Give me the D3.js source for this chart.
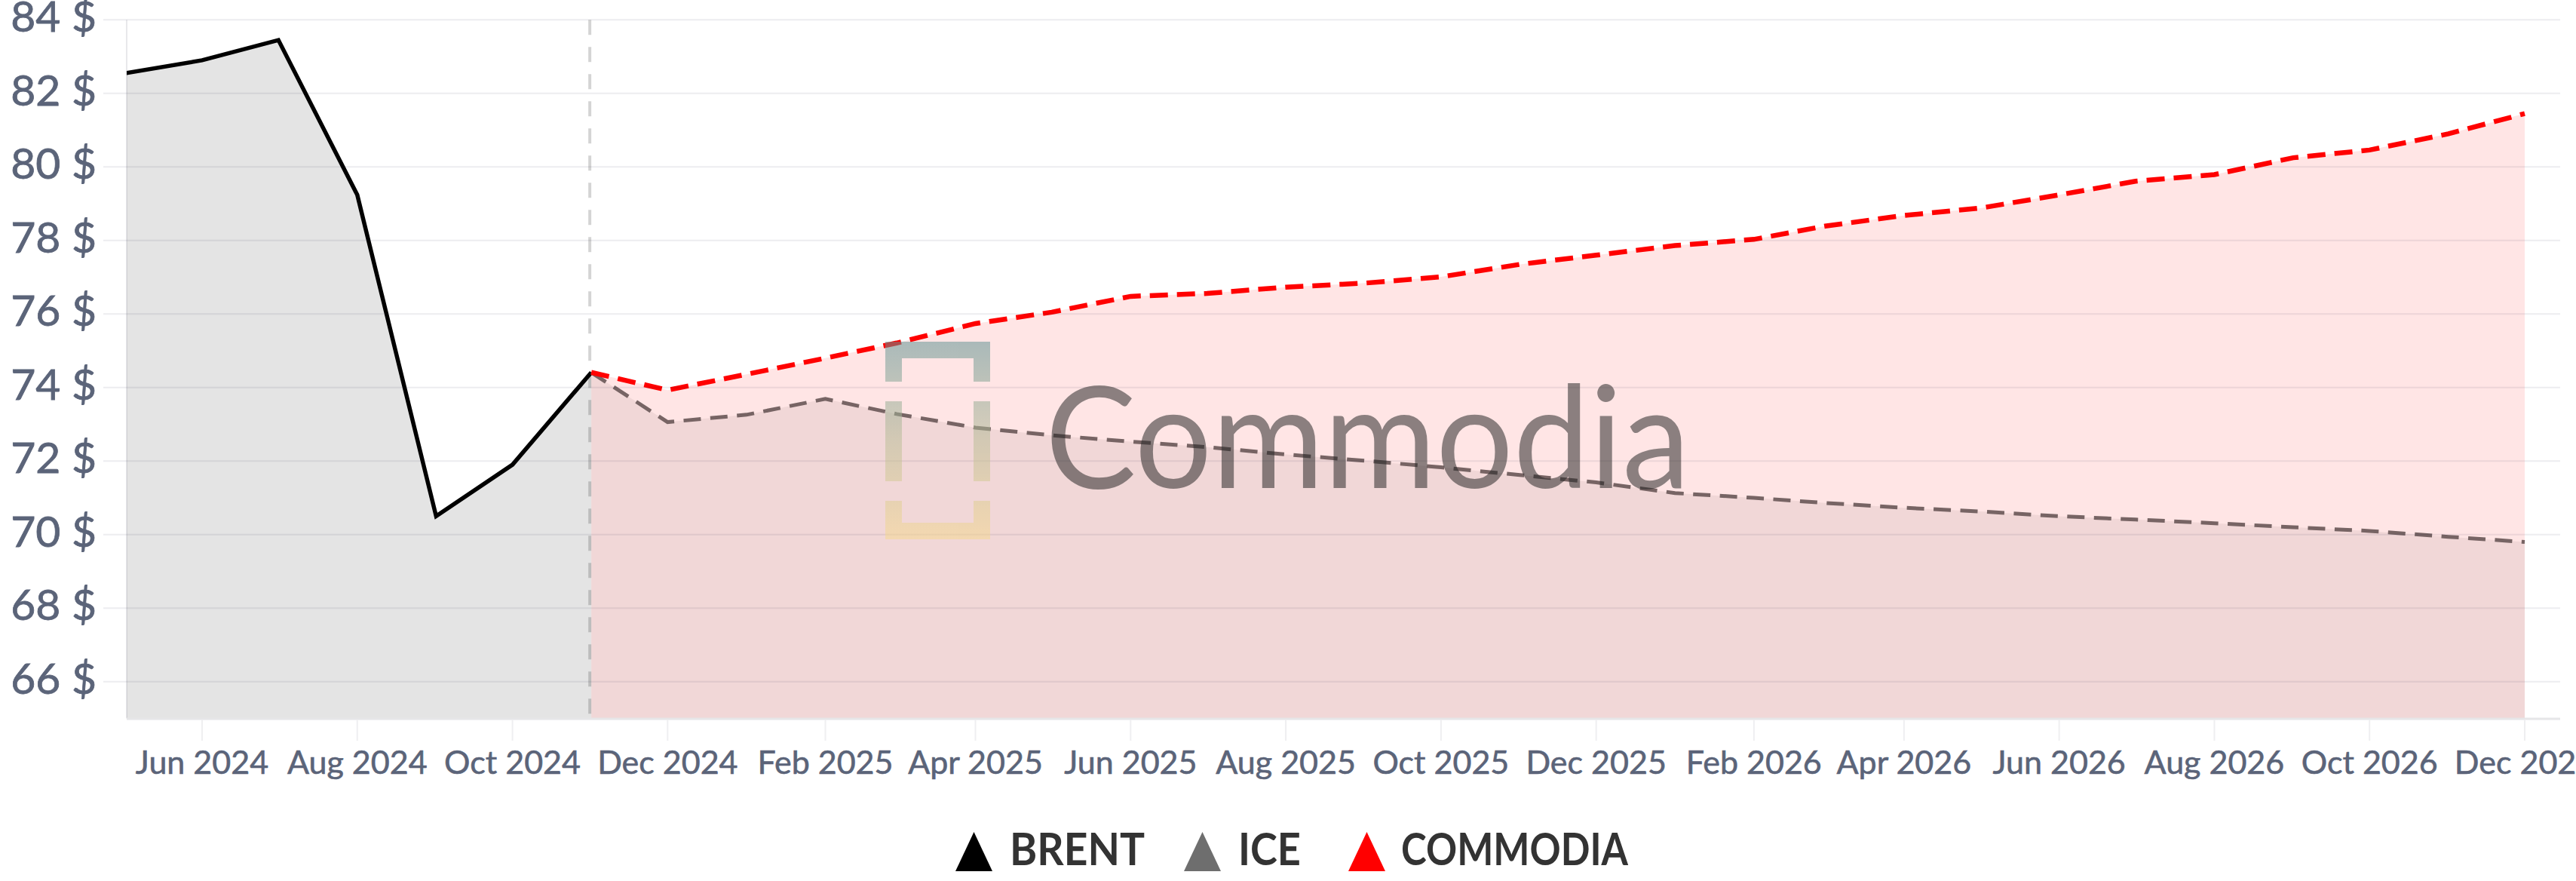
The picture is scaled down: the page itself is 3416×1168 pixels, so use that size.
<!DOCTYPE html>
<html>
<head>
<meta charset="utf-8">
<script src="https://cdn.jsdelivr.net/npm/d3@7"></script>
<style>
html,body{margin:0;padding:0;background:#ffffff;}
svg{display:block;}
</style>
</head>
<body>
<svg id="chart" width="3416" height="1168"></svg>
<script>
// ---------------- DATA ----------------
const brentMonths = ["2024-05","2024-06","2024-07","2024-08","2024-09","2024-10","2024-11"];
const brentValues = [82.54, 82.90, 83.45, 79.24, 70.50, 71.90, 74.41];

const forecastMonths = ["2024-11","2024-12","2025-01","2025-02","2025-03","2025-04","2025-05","2025-06",
  "2025-07","2025-08","2025-09","2025-10","2025-11","2025-12","2026-01","2026-02","2026-03","2026-04",
  "2026-05","2026-06","2026-07","2026-08","2026-09","2026-10","2026-11","2026-12"];
const iceValues = [74.41, 73.06, 73.26, 73.69, 73.28, 72.91, 72.70, 72.53, 72.38, 72.18, 72.01, 71.83,
  71.62, 71.42, 71.13, 71.00, 70.86, 70.73, 70.63, 70.50, 70.41, 70.31, 70.20, 70.10, 69.94, 69.80];
const commodiaValues = [74.41, 73.93, 74.36, 74.80, 75.21, 75.74, 76.05, 76.48, 76.56, 76.73, 76.84, 77.01,
  77.35, 77.60, 77.86, 78.03, 78.39, 78.68, 78.88, 79.24, 79.61, 79.79, 80.25, 80.46, 80.90, 81.45];

const yTickValues = [66, 68, 70, 72, 74, 76, 78, 80, 82, 84];
const xTickMonths = ["2024-06","2024-08","2024-10","2024-12","2025-02","2025-04","2025-06","2025-08",
  "2025-10","2025-12","2026-02","2026-04","2026-06","2026-08","2026-10","2026-12"];
const splitMonth = "2024-11";

const legendLabels = ["BRENT", "ICE", "COMMODIA"];
const legendColors = ["#000000", "#6e6e6e", "#ff0000"];
const watermarkText = "Commodia";

// ---------------- SETUP ----------------
const parse = d3.timeParse("%Y-%m");
const fmt = d3.timeFormat("%b %Y");
const svg = d3.select("#chart");

const plotLeft = 168, plotBottom = 952.5, gridRight = 3395;
const x = d3.scaleTime().domain([parse("2024-05"), parse("2026-12")]).range([163.4, 3348]);
const y = d3.scaleLinear().domain([65, 84]).range([952.5, 26.3]);

const brent = brentMonths.map((m, i) => ({d: parse(m), v: brentValues[i]}));
const ice = forecastMonths.map((m, i) => ({d: parse(m), v: iceValues[i]}));
const com = forecastMonths.map((m, i) => ({d: parse(m), v: commodiaValues[i]}));

const defs = svg.append("defs");
defs.append("clipPath").attr("id", "plotClip").append("rect")
  .attr("x", plotLeft).attr("y", 0).attr("width", gridRight - plotLeft).attr("height", plotBottom);

const grad = defs.append("linearGradient").attr("id", "logoGrad")
  .attr("gradientUnits", "userSpaceOnUse").attr("x1", 0).attr("x2", 0).attr("y1", 453).attr("y2", 715);
grad.append("stop").attr("offset", "0%").attr("stop-color", "#5f9393");
grad.append("stop").attr("offset", "50%").attr("stop-color", "#b9bd96");
grad.append("stop").attr("offset", "100%").attr("stop-color", "#f6d98f");

const area = d3.area().x(d => x(d.d)).y0(plotBottom).y1(d => y(d.v));
const line = d3.line().x(d => x(d.d)).y(d => y(d.v));

const plot = svg.append("g").attr("clip-path", "url(#plotClip)");

// fills
plot.append("path").datum(brent).attr("d", area).attr("fill", "#e4e4e4");
plot.append("path").datum(com).attr("d", area).attr("fill", "rgba(255,0,0,0.1)");
plot.append("path").datum(ice).attr("d", area).attr("fill", "#776464").attr("fill-opacity", 0.1);

// gridlines
svg.append("g").selectAll("line").data(yTickValues).join("line")
  .attr("x1", 137).attr("x2", gridRight)
  .attr("y1", d => y(d)).attr("y2", d => y(d))
  .attr("stroke", "rgba(30,30,60,0.08)").attr("stroke-width", 2);

// y axis line (left)
svg.append("line").attr("x1", plotLeft).attr("x2", plotLeft).attr("y1", y(84)).attr("y2", plotBottom)
  .attr("stroke", "rgba(30,30,60,0.1)").attr("stroke-width", 2);

// bottom axis line
svg.append("line").attr("x1", plotLeft).attr("x2", gridRight).attr("y1", plotBottom + 0.5).attr("y2", plotBottom + 0.5)
  .attr("stroke", "#e6e6e8").attr("stroke-width", 3);

// split dashed line
svg.append("line").attr("x1", x(parse(splitMonth)) - 2).attr("x2", x(parse(splitMonth)) - 2)
  .attr("y1", y(84)).attr("y2", plotBottom)
  .attr("stroke", "rgba(0,0,0,0.17)").attr("stroke-width", 4).attr("stroke-dasharray", "20,16");

// lines
plot.append("path").datum(brent).attr("d", line).attr("fill", "none")
  .attr("stroke", "#000").attr("stroke-width", 5.5).attr("stroke-linejoin", "miter");
plot.append("path").datum(ice).attr("d", line).attr("fill", "none")
  .attr("stroke", "#776464").attr("stroke-width", 5).attr("stroke-dasharray", "23,12.5");
plot.append("path").datum(com).attr("d", line).attr("fill", "none")
  .attr("stroke", "#ff0000").attr("stroke-width", 6.5).attr("stroke-dasharray", "24,12");

// watermark
const wm = svg.append("g").attr("opacity", 0.53);
wm.append("path").attr("fill", "url(#logoGrad)").attr("d",
  "M1174,506 V453 H1313 V506 H1291 V475 H1196 V506 Z" +
  "M1174,532 H1196 V638 H1174 Z M1291,532 H1313 V638 H1291 Z" +
  "M1174,664 V715 H1313 V664 H1291 V693 H1196 V664 Z");
wm.append("text").attr("x", 1386).attr("y", 647)
  .attr("font-family", "Lato, 'Open Sans', sans-serif").attr("font-size", 188).attr("font-weight", 400)
  .attr("fill", "#262626").attr("textLength", 855).attr("lengthAdjust", "spacingAndGlyphs")
  .text(watermarkText);

// y labels
svg.append("g").selectAll("text").data(yTickValues).join("text")
  .attr("x", 128).attr("y", d => y(d) + 16)
  .attr("text-anchor", "end")
  .attr("font-family", "Lato, sans-serif").attr("font-size", 57)
  .attr("fill", "#5b6479").attr("stroke", "#5b6479").attr("stroke-width", 0.8)
  .text(d => d + " $");

// x ticks + labels
const xt = svg.append("g");
xt.selectAll("line").data(xTickMonths).join("line")
  .attr("x1", d => x(parse(d))).attr("x2", d => x(parse(d)))
  .attr("y1", 954).attr("y2", 982)
  .attr("stroke", "#efeff1").attr("stroke-width", 2);
xt.selectAll("text").data(xTickMonths).join("text")
  .attr("x", d => x(parse(d))).attr("y", 1026)
  .attr("text-anchor", "middle")
  .attr("font-family", "Lato, sans-serif").attr("font-size", 43)
  .attr("fill", "#5b6479").attr("stroke", "#5b6479").attr("stroke-width", 0.6)
  .text(d => fmt(parse(d)));

// legend
const legendTri = [1267, 1570, 1788];
const legendTxt = [1339, 1642, 1858];
const legendLen = [179, 83, 301];
const lg = svg.append("g");
legendLabels.forEach((lab, i) => {
  const tx = legendTri[i];
  lg.append("path")
    .attr("d", d3.line()([[tx, 1155], [tx + 49, 1155], [tx + 24.5, 1103]]) + "Z")
    .attr("fill", legendColors[i]);
  lg.append("text").attr("x", legendTxt[i]).attr("y", 1147)
    .attr("font-family", "Lato, sans-serif").attr("font-weight", 700).attr("font-size", 60)
    .attr("textLength", legendLen[i]).attr("lengthAdjust", "spacingAndGlyphs")
    .attr("fill", "#333333").text(lab);
});
</script>
</body>
</html>
